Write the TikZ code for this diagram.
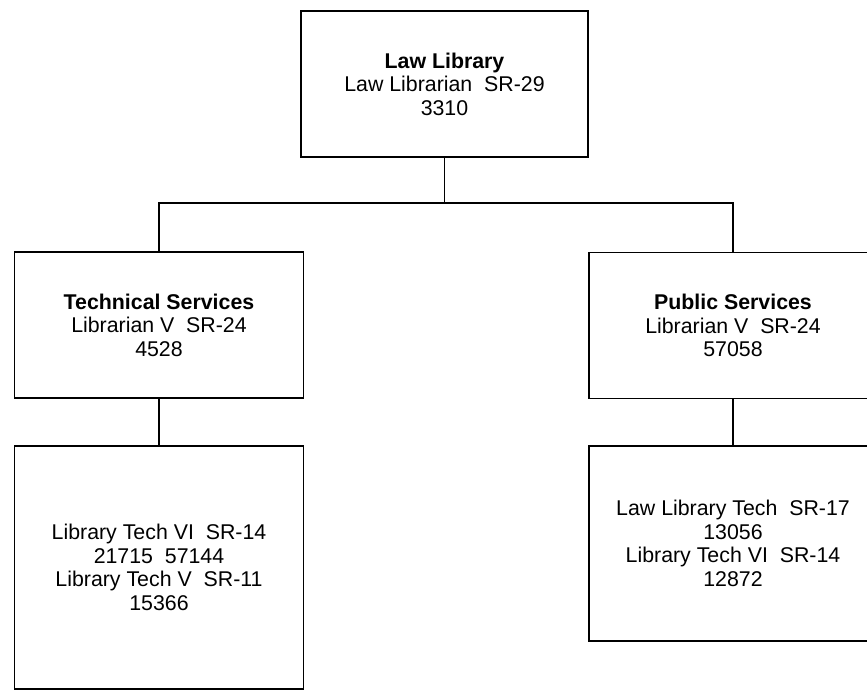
\documentclass[tikz,border=0pt]{standalone}
\usepackage{fontspec}
\usepackage{xcolor}
\setmainfont{Liberation Sans}
\usetikzlibrary{positioning}
\definecolor{BoxLine}{HTML}{000000}
\newcommand{\unitbox}[5]{\node[orgbox,minimum width=#3,minimum height=#4] (#1) at (#2) {#5};}
\tikzset{
  orgbox/.style={draw=BoxLine,line width=1.4pt,fill=white,align=center,inner sep=2pt,
    font=\fontsize{16}{17.6}\selectfont},
  orgline/.style={draw=BoxLine,line width=1pt}
}

\begin{document}
\begin{tikzpicture}[x=0.75pt,y=-0.75pt]
  \clip (0,0) rectangle (867,694);
  \unitbox{law}{444.5,84}{215.25pt}{109.5pt}{\textbf{Law Library}\\Law Librarian~~SR-29\\3310}
  \unitbox{tech}{159,325}{216.75pt}{109.5pt}{\textbf{Technical Services}\\Librarian V~~SR-24\\4528}
  \unitbox{pub}{733,325.5}{216pt}{109.5pt}{\textbf{Public Services}\\Librarian V~~SR-24\\57058}
  \unitbox{techstaff}{159,567.5}{216.75pt}{182.25pt}{Library Tech VI~~SR-14\\21715~~57144\\Library Tech V~~SR-11\\15366}
  \unitbox{pubstaff}{733,543.5}{216pt}{146.25pt}{Law Library Tech~~SR-17\\13056\\Library Tech VI~~SR-14\\12872}
  \coordinate (split) at (444.5,203);
  \draw[orgline] (law.south) -- (split);
  \draw[orgline] (tech.north) |- (split) -| (pub.north);
  \draw[orgline] (tech.south) -- (techstaff.north);
  \draw[orgline] (pub.south) -- (pubstaff.north);
\end{tikzpicture}
\end{document}
